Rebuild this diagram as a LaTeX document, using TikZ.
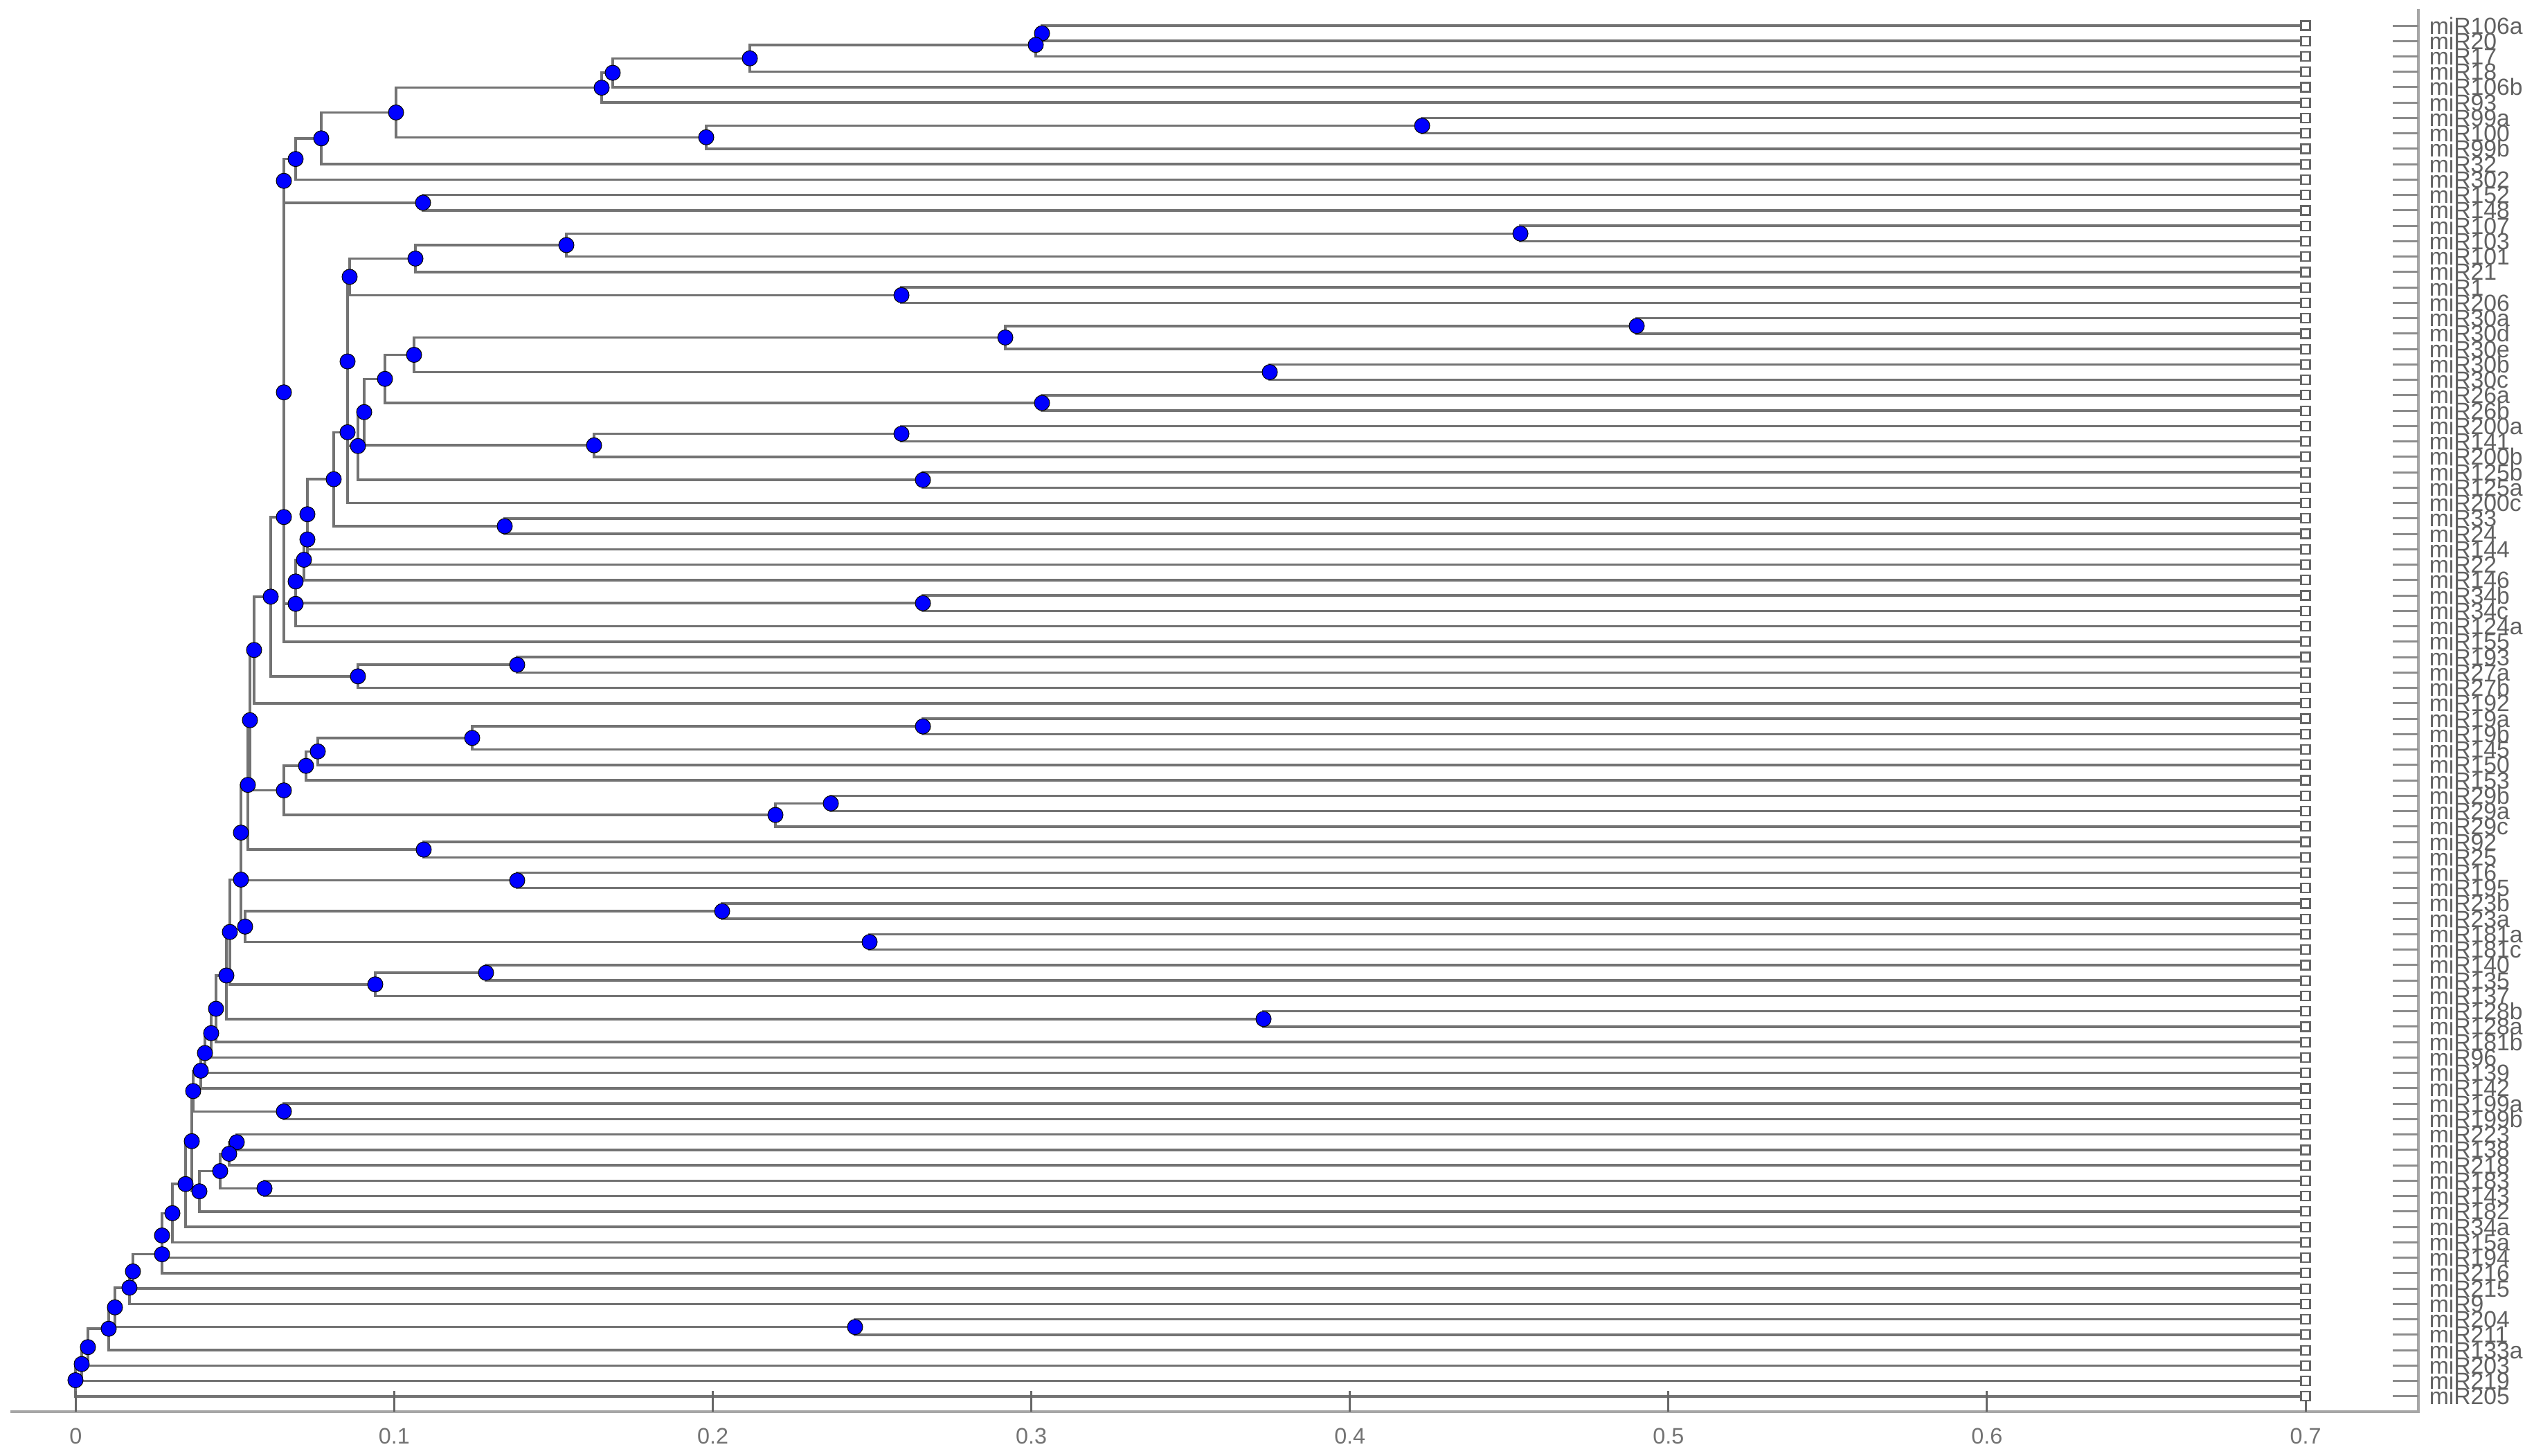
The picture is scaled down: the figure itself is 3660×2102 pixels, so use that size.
\documentclass[tikz,border=0pt]{standalone}
\usepackage{fontspec}
\setmainfont{Liberation Sans}
\pgfdeclarelayer{bg}
\pgfsetlayers{bg,main}
\newcommand\brn[4]{%
  \pgfmathsetmacro\tmpy{(\csname yy#3\endcsname+\csname yy#4\endcsname)/2}%
  \expandafter\xdef\csname yy#1\endcsname{\tmpy}%
  \coordinate (#1) at (#2,\tmpy);%
  \begin{pgfonlayer}{bg}\draw[br] (#1) |- (#3) (#1) |- (#4);\end{pgfonlayer}%
  \node[dotn] (d#1) at (#1) {};%
}
\begin{document}
\begin{tikzpicture}[x=0.1mm,y=-0.1mm,
  br/.style={draw=black!55, line width=0.35mm},
  dotn/.style={circle, fill=blue, draw=black, line width=0.1mm, minimum size=2.2mm, inner sep=0pt},
  leafsq/.style={rectangle, draw=black!60, fill=white, line width=0.22mm, minimum size=1.3mm, inner sep=0pt},
  lab/.style={anchor=west, text=black!62, font=\fontsize{9.6pt}{10pt}\selectfont, inner sep=0pt, text height=2.4mm, text depth=0pt},
  axisl/.style={draw=black!35, line width=0.4mm},
  rtick/.style={draw=black!45, line width=0.3mm},
  btick/.style={draw=black!60, line width=0.3mm},
  ticklab/.style={text=black!55, font=\fontsize{9.2pt}{10pt}\selectfont, inner sep=0pt},
]
\useasboundingbox (0,0) rectangle (3660,2102);
% axes
\draw[axisl] (15,2039) -- (3493,2039) -- (3493,13);
\foreach \i/\s in {0/0,1/0.1,2/0.2,3/0.3,4/0.4,5/0.5,6/0.6,7/0.7}{
  \draw[btick] ({109.3+\i*460.1},2039) -- ++(0,-30);
  \node[ticklab] (X\i) at ({109.3+\i*460.1},2074) {\s};
}
% leaves
\foreach \k/\t in {1/miR106a,2/miR20,3/miR17,4/miR18,5/miR106b,6/miR93,7/miR99a,8/miR100,9/miR99b,10/miR32,
  11/miR302,12/miR152,13/miR148,14/miR107,15/miR103,16/miR101,17/miR21,18/miR1,19/miR206,20/miR30a,
  21/miR30d,22/miR30e,23/miR30b,24/miR30c,25/miR26a,26/miR26b,27/miR200a,28/miR141,29/miR200b,30/miR125b,
  31/miR125a,32/miR200c,33/miR33,34/miR24,35/miR144,36/miR22,37/miR146,38/miR34b,39/miR34c,40/miR124a,
  41/miR155,42/miR193,43/miR27a,44/miR27b,45/miR192,46/miR19a,47/miR19b,48/miR145,49/miR150,50/miR153,
  51/miR29b,52/miR29a,53/miR29c,54/miR92,55/miR25,56/miR16,57/miR195,58/miR23b,59/miR23a,60/miR181a,
  61/miR181c,62/miR140,63/miR135,64/miR137,65/miR128b,66/miR128a,67/miR181b,68/miR96,69/miR139,70/miR142,
  71/miR199a,72/miR199b,73/miR223,74/miR138,75/miR218,76/miR183,77/miR143,78/miR182,79/miR34a,80/miR15a,
  81/miR194,82/miR216,83/miR215,84/miR9,85/miR204,86/miR211,87/miR133a,88/miR203,89/miR219,90/miR205}{
  \pgfmathsetmacro\yy{37+(\k-1)*22.245}
  \expandafter\xdef\csname yyL\k\endcsname{\yy}
  \node[leafsq] (L\k) at (3330,\yy) {};
  \node[lab] (T\k) at (3508,\yy) {\t};
  \draw[rtick] (3456,\yy) -- (3493,\yy);
}
% branches
\brn{B1}{1505}{L1}{L2}
\brn{B2}{1496}{B1}{L3}
\brn{B3}{1083}{B2}{L4}
\brn{B4}{885}{B3}{L5}
\brn{B5}{869}{B4}{L6}
\brn{B6}{2054}{L7}{L8}
\brn{B7}{1020}{B6}{L9}
\brn{B8}{572}{B5}{B7}
\brn{B9}{464}{B8}{L10}
\brn{B10}{427}{B9}{L11}
\brn{B11}{611}{L12}{L13}
\brn{B12}{410}{B10}{B11}
\brn{B13}{2196}{L14}{L15}
\brn{B14}{818}{B13}{L16}
\brn{B15}{600}{B14}{L17}
\brn{B16}{1302}{L18}{L19}
\brn{B17}{505}{B15}{B16}
\brn{B18}{2364}{L20}{L21}
\brn{B19}{1452}{B18}{L22}
\brn{B20}{1834}{L23}{L24}
\brn{B21}{598}{B19}{B20}
\brn{B22}{1505}{L25}{L26}
\brn{B23}{556}{B21}{B22}
\brn{B24}{1302}{L27}{L28}
\brn{B25}{858}{B24}{L29}
\brn{B26}{526}{B23}{B25}
\brn{B27}{1333}{L30}{L31}
\brn{B28}{517}{B26}{B27}
\brn{B29}{502}{B17}{B28}
\brn{B30}{502}{B29}{L32}
\brn{B31}{729}{L33}{L34}
\brn{B32}{482}{B30}{B31}
\brn{B33}{444}{B32}{L35}
\brn{B34}{444}{B33}{L36}
\brn{B35}{439}{B34}{L37}
\brn{B36}{1333}{L38}{L39}
\brn{B37}{427}{B35}{B36}
\brn{B38}{427}{B37}{L40}
\brn{B39}{410}{B12}{B38}
\brn{B40}{410}{B39}{L41}
\brn{B41}{747}{L42}{L43}
\brn{B42}{517}{B41}{L44}
\brn{B43}{391}{B40}{B42}
\brn{B44}{367}{B43}{L45}
\brn{B45}{1333}{L46}{L47}
\brn{B46}{682}{B45}{L48}
\brn{B47}{459}{B46}{L49}
\brn{B48}{442}{B47}{L50}
\brn{B49}{1200}{L51}{L52}
\brn{B50}{1120}{B49}{L53}
\brn{B51}{410}{B48}{B50}
\brn{B52}{361}{B44}{B51}
\brn{B53}{612}{L54}{L55}
\brn{B54}{358}{B52}{B53}
\brn{B55}{747}{L56}{L57}
\brn{B56}{348}{B54}{B55}
\brn{B57}{1043}{L58}{L59}
\brn{B58}{1256}{L60}{L61}
\brn{B59}{354}{B57}{B58}
\brn{B60}{348}{B56}{B59}
\brn{B61}{702}{L62}{L63}
\brn{B62}{542}{B61}{L64}
\brn{B63}{332}{B60}{B62}
\brn{B64}{1825}{L65}{L66}
\brn{B65}{327}{B63}{B64}
\brn{B66}{312}{B65}{L67}
\brn{B67}{305}{B66}{L68}
\brn{B68}{296}{B67}{L69}
\brn{B69}{290}{B68}{L70}
\brn{B70}{410}{L71}{L72}
\brn{B71}{279}{B69}{B70}
\brn{B72}{342}{L73}{L74}
\brn{B73}{331}{B72}{L75}
\brn{B74}{382}{L76}{L77}
\brn{B75}{318}{B73}{B74}
\brn{B76}{288}{B75}{L78}
\brn{B77}{277}{B71}{B76}
\brn{B78}{268}{B77}{L79}
\brn{B79}{249}{B78}{L80}
\brn{B80}{234}{B79}{L81}
\brn{B81}{234}{B80}{L82}
\brn{B82}{192}{B81}{L83}
\brn{B83}{187}{B82}{L84}
\brn{B84}{1235}{L85}{L86}
\brn{B85}{166}{B83}{B84}
\brn{B86}{157}{B85}{L87}
\brn{B87}{127}{B86}{L88}
\brn{B88}{118}{B87}{L89}
\brn{B89}{109}{B88}{L90}
\end{tikzpicture}
\end{document}
